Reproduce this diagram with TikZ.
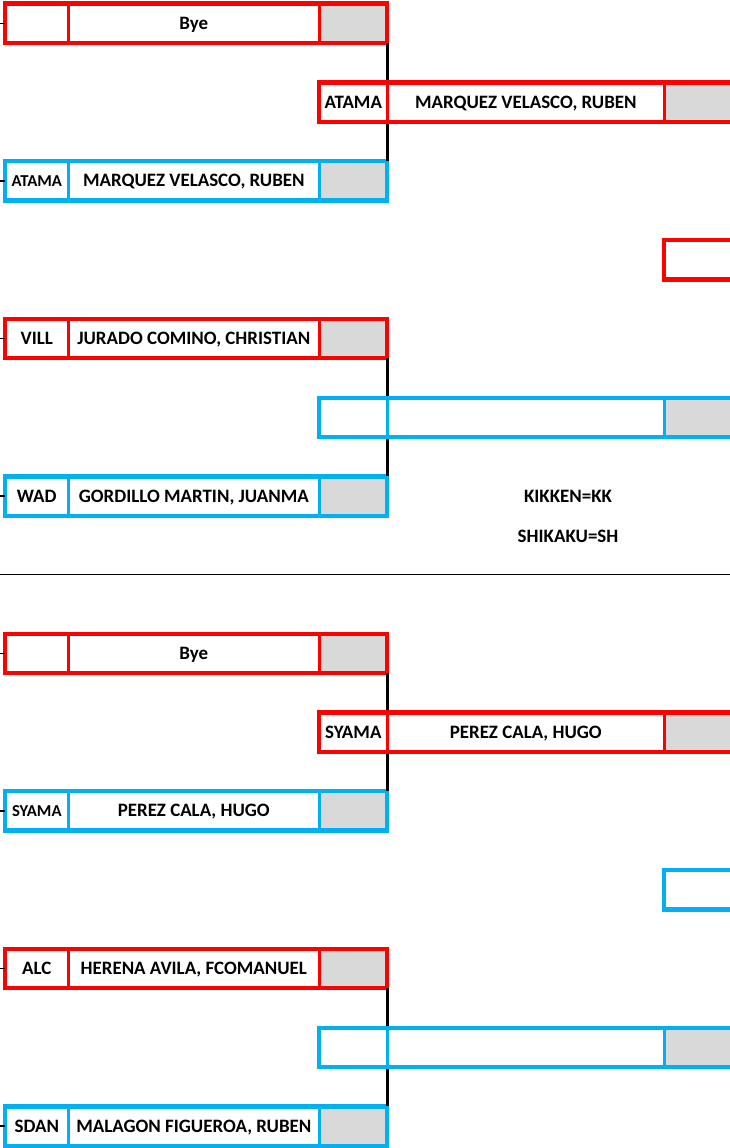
\documentclass[tikz,border=0pt]{standalone}
\usepackage{fontspec}
\setmainfont{Carlito}
\usetikzlibrary{positioning}
\definecolor{poolred}{RGB}{255,0,0}
\definecolor{poolblue}{RGB}{0,176,240}
\definecolor{scoregray}{RGB}{217,217,217}

\tikzset{
  cell/.style={draw, line width=2.25pt, inner sep=0pt, outer sep=0pt, minimum height=29.5pt, text height=9pt, text depth=0pt, fill=white, font=\bfseries\fontsize{14.2}{16}\selectfont},
  codecell/.style={cell, minimum width=47.25pt},
  namecell/.style={cell, minimum width=188.25pt},
  scorecell/.style={cell, minimum width=51pt, fill=scoregray},
  wcode/.style={cell, minimum width=51pt},
  wname/.style={cell, minimum width=207.75pt},
  frame/.style={line width=3.2pt},
  tight/.style={font=\bfseries\fontsize{12.5}{14}\selectfont, text height=8pt},
  plain/.style={},
  link/.style={line width=2pt, black},
  tick/.style={line width=1.1pt, black},
  legend/.style={font=\bfseries\fontsize{14.2}{16}\selectfont}
}

\begin{document}
\begin{tikzpicture}[x=0.75pt, y=-0.75pt]
  \useasboundingbox (0,0) rectangle (730,1148);
  \clip (0,0) rectangle (730,1148);
  \coordinate (edge) at (0,0);

  % first round
  \foreach \n/\y/\c/\f/\code/\name in {
      a1/23.3/poolred/plain//Bye,
      a2/180.9/poolblue/tight/ATAMA/{MARQUEZ VELASCO, RUBEN},
      a3/338.5/poolred/plain/VILL/{JURADO COMINO, CHRISTIAN},
      a4/496.1/poolblue/plain/WAD/{GORDILLO MARTIN, JUANMA},
      a5/653.3/poolred/plain//Bye,
      a6/810.9/poolblue/tight/SYAMA/{PEREZ CALA, HUGO},
      a7/968.5/poolred/plain/ALC/{HERENA AVILA, FCOMANUEL},
      a8/1126.1/poolblue/plain/SDAN/{MALAGON FIGUEROA, RUBEN}} {
    \node[codecell, draw=\c, \f, anchor=west] (\n-c) at (5.3,\y) {\code};
    \node[namecell, draw=\c, right=0pt of \n-c] (\n-n) {\name};
    \node[scorecell, draw=\c, right=0pt of \n-n] (\n-s) {};
    \draw[frame, \c] (\n-c.north west) rectangle (\n-s.south east);
    \draw[tick] (\n-c.west) -- (\n-c.west -| edge);
  }

  \draw[link] (a1-s.south east) -- (a2-s.north east);
  \draw[link] (a3-s.south east) -- (a4-s.north east);
  \draw[link] (a5-s.south east) -- (a6-s.north east);
  \draw[link] (a7-s.south east) -- (a8-s.north east);

  % second round
  \foreach \n/\y/\c/\code/\name in {
      b1/102.1/poolred/ATAMA/{MARQUEZ VELASCO, RUBEN},
      b2/417.3/poolblue//,
      b3/732.1/poolred/SYAMA/{PEREZ CALA, HUGO},
      b4/1047.3/poolblue//} {
    \node[wcode, draw=\c, anchor=west] (\n-c) at (319.3,\y) {\code};
    \node[wname, draw=\c, right=0pt of \n-c] (\n-n) {\name};
    \node[scorecell, draw=\c, right=0pt of \n-n] (\n-s) {};
    \draw[frame, \c] (\n-c.north west) rectangle (\n-s.south east);
  }

  % third round
  \node[wcode, draw=poolred, anchor=west] (c1) at (664.3,259.7) {};
  \draw[frame, poolred] (c1.north west) rectangle (c1.south east);
  \node[wcode, draw=poolblue, anchor=west] (c2) at (664.3,889.7) {};
  \draw[frame, poolblue] (c2.north west) rectangle (c2.south east);

  \node[legend] (kk) at (568,496.5) {KIKKEN=KK};
  \node[legend] (sh) at (568,536) {SHIKAKU=SH};

  \draw[line width=1.1pt] (0,574.5) -- (730,574.5);
\end{tikzpicture}
\end{document}
